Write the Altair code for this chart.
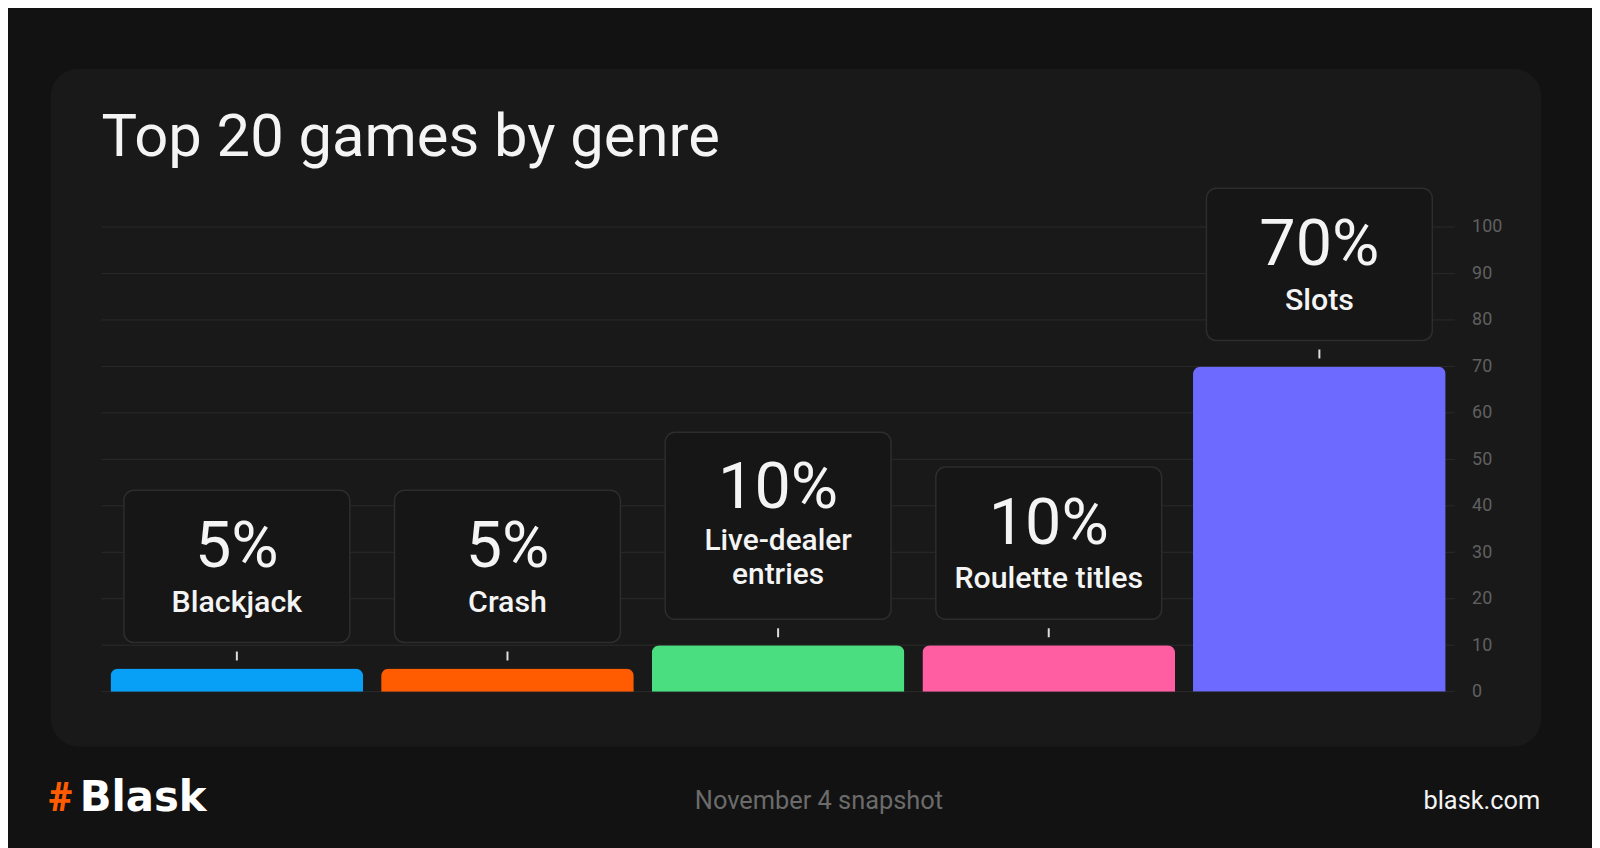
import altair as alt
import pandas as pd

# ---------------- data ----------------
categories = ["Blackjack", "Crash", "Live-dealer entries", "Roulette titles", "Slots"]
values = [5, 5, 10, 10, 70]
box_labels = ["Blackjack", "Crash", "Live-dealer\nentries", "Roulette titles", "Slots"]
bar_colors = ["#089ff6", "#ff5b00", "#4ade80", "#ff5fa2", "#6d6bff"]
y_ticks = [0, 10, 20, 30, 40, 50, 60, 70, 80, 90, 100]

title_text = "Top 20 games by genre"
footer_center = "November 4 snapshot"
footer_right = "blask.com"
logo_mark = "#"
logo_word = "Blask"

df = pd.DataFrame({"genre": categories, "value": values, "box": box_labels})
df["lines"] = [s.count("\n") + 1 for s in box_labels]
df["pct"] = [f"{v}%" for v in values]
ticks_df = pd.DataFrame({"tick": y_ticks})
one = pd.DataFrame({"k": [0]})

FONT = "Roboto"
TXT = "#f4f4f4"

x_enc = alt.X("genre:N", sort=categories,
              scale=alt.Scale(paddingInner=0, paddingOuter=0), axis=None)
y_scale = alt.Scale(domain=[0, 100], nice=False, zero=True)


def y_of(field):
    return alt.Y(field, type="quantitative", scale=y_scale,
                 axis=alt.Axis(orient="right", values=y_ticks, grid=False, domain=False,
                               ticks=False, labelPadding=17, labelFont=FONT,
                               labelFontSize=18, labelColor="#606060", zindex=1,
                               title=None))


# ---------------- decoration ----------------
panel = alt.Chart(one).mark_rect(cornerRadius=28, fill="#191919").encode(
    x=alt.value(-51), x2=alt.value(1447), y=alt.value(-159), y2=alt.value(522))

title = alt.Chart(one).mark_text(text=title_text, font=FONT, fontSize=60, fontWeight=400,
                                 color=TXT, align="left", baseline="alphabetic").encode(
    x=alt.value(0), y=alt.value(-71))

logo1 = alt.Chart(one).mark_text(text=logo_mark, font=FONT, fontSize=41, fontWeight=900,
                                 color="#ff5b00", align="left", baseline="alphabetic").encode(
    x=alt.value(-53), y=alt.value(587))
logo2 = alt.Chart(one).mark_text(text=logo_word, font="DejaVu Sans", fontSize=42,
                                 fontWeight="bold", color="#ffffff", align="left",
                                 baseline="alphabetic").encode(
    x=alt.value(-22), y=alt.value(587))
foot_c = alt.Chart(one).mark_text(text=footer_center, font=FONT, fontSize=25.5,
                                  color="#6b6b6b", align="center", baseline="alphabetic").encode(
    x=alt.value(721), y=alt.value(585))
foot_r = alt.Chart(one).mark_text(text=footer_right, font=FONT, fontSize=25.5,
                                  color="#f4f4f4", align="right", baseline="alphabetic").encode(
    x=alt.value(1446), y=alt.value(585))

# ---------------- chart ----------------
grid = alt.Chart(ticks_df).mark_rule(color="#2a2a2a", strokeWidth=1).encode(y=y_of("tick"))

bars = alt.Chart(df).mark_bar(size=254, cornerRadiusTopLeft=8, cornerRadiusTopRight=8).encode(
    x=x_enc, y=y_of("value"),
    color=alt.Color("genre:N", scale=alt.Scale(domain=categories, range=bar_colors), legend=None))

box_style = dict(size=227, cornerRadius=10, fill="#161616", stroke="#2d2d2d", strokeWidth=1.5)
box1 = alt.Chart(df).transform_filter("datum.lines == 1").mark_bar(
    yOffset=-179, y2Offset=-26, **box_style).encode(x=x_enc, y=y_of("value"), y2="value:Q")
box2 = alt.Chart(df).transform_filter("datum.lines == 2").mark_bar(
    yOffset=-214, y2Offset=-26, **box_style).encode(x=x_enc, y=y_of("value"), y2="value:Q")

tick = alt.Chart(df).mark_rule(color="#dddddd", strokeWidth=2, yOffset=-17, y2Offset=-8).encode(
    x=x_enc, y=y_of("value"), y2="value:Q")

pct1 = alt.Chart(df).transform_filter("datum.lines == 1").mark_text(
    font=FONT, fontSize=65, color=TXT, align="center", baseline="alphabetic", dy=-102).encode(
    x=x_enc, y=y_of("value"), text="pct:N")
pct2 = alt.Chart(df).transform_filter("datum.lines == 2").mark_text(
    font=FONT, fontSize=65, color=TXT, align="center", baseline="alphabetic", dy=-138).encode(
    x=x_enc, y=y_of("value"), text="pct:N")

lab1 = alt.Chart(df).transform_filter("datum.lines == 1").mark_text(
    font=FONT, fontSize=30.5, fontWeight=500, color=TXT, align="center",
    baseline="alphabetic", dy=-57).encode(x=x_enc, y=y_of("value"), text="box:N")
lab2 = alt.Chart(df).transform_filter("datum.lines == 2").mark_text(
    font=FONT, fontSize=30, fontWeight=500, color=TXT, align="center",
    baseline="alphabetic", dy=-96, lineBreak="\n", lineHeight=35).encode(
    x=x_enc, y=y_of("value"), text="box:N")

chart = alt.layer(
    panel, grid, bars, box1, box2, tick, pct1, pct2, lab1, lab2,
    title, logo1, logo2, foot_c, foot_r
).properties(
    width=1360, height=467,
    padding={"left": 94, "top": 218, "right": 138, "bottom": 155},
    autosize=alt.AutoSizeParams(type="none"),
    background="#121212",
).configure_view(stroke=None)

chart.save("out.html", embed_options={"renderer": "svg", "actions": False})
